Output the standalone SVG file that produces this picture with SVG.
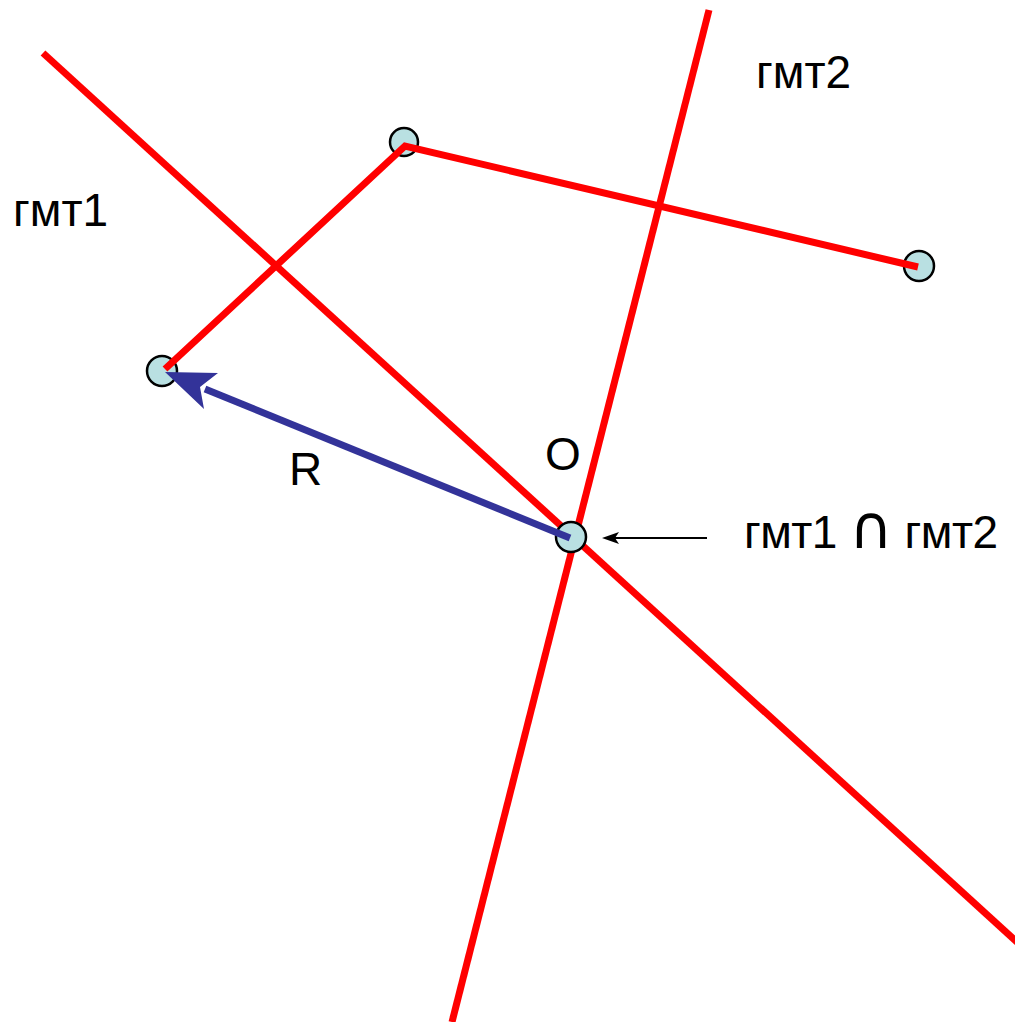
<svg xmlns="http://www.w3.org/2000/svg" width="1015" height="1022" viewBox="0 0 1015 1022">
<style>
.red{stroke:#ff0000;stroke-width:7;fill:none}
.pt{fill:#b9e0e2;stroke:#000;stroke-width:2.5}
.t{font-family:"Liberation Sans",Arial,sans-serif;font-size:46px;fill:#000}
.cap{font-family:"DejaVu Sans",sans-serif;font-size:60px}
</style>
<g id="connectors">
<line id="gmt1-line" class="red" x1="43" y1="53" x2="1018" y2="943"/>
<line id="gmt2-line" class="red" x1="709" y1="10" x2="452" y2="1022"/>
</g>
<g id="node-O"><circle class="pt" cx="571" cy="537" r="15"/></g>
<g id="node-A"><circle class="pt" cx="162" cy="371" r="15"/></g>
<g id="node-B"><circle class="pt" cx="404" cy="142" r="14"/></g>
<g id="node-C"><circle class="pt" cx="919" cy="266" r="15"/></g>
<g id="connectors2">
<polyline class="red" points="165,369 405,146 918,267"/>
<line x1="570" y1="538" x2="205" y2="389" stroke="#333399" stroke-width="7"/>
<polygon points="165,372 218,373 200,387 204,409" fill="#333399"/>
<line x1="707" y1="538" x2="612" y2="538" stroke="#000" stroke-width="2"/>
<polygon points="602,538 619,532 615,538 619,544" fill="#000"/>
</g>
<g id="labels">
<text class="t" x="756" y="88">гмт2</text>
<text class="t" x="13" y="226">гмт1</text>
<text class="t" x="545" y="470">O</text>
<text class="t" x="289" y="485">R</text>
<text class="t" x="744" y="548" textLength="254">гмт1 <tspan class="cap">∩</tspan> гмт2</text>
</g>
</svg>
